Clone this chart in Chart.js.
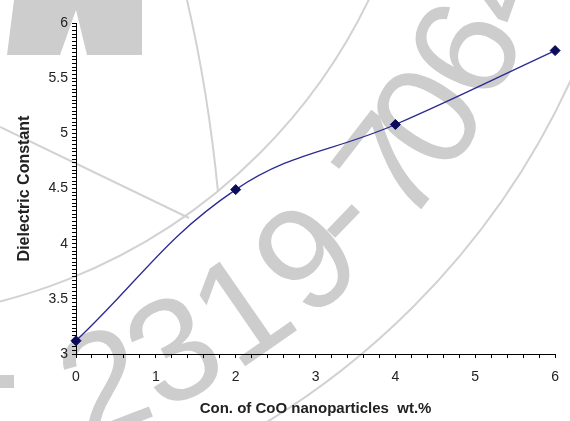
<!DOCTYPE html>
<html>
<head>
<meta charset="utf-8">
<script src="https://cdn.jsdelivr.net/npm/chart.js@4/dist/chart.umd.min.js"></script>
<style>
  html, body { margin: 0; padding: 0; background: #ffffff; }
  #wrap { width: 570px; height: 421px; position: relative; }
</style>
</head>
<body>
<div id="wrap"><canvas id="chart" width="570" height="421"></canvas></div>
<script>
// Dielectric constant against CoO nanoparticle concentration
const concentration = [0, 2, 4, 6];
const dielectricConstant = [3.12, 4.49, 5.08, 5.75];

const xTickLabels = ['0', '1', '2', '3', '4', '5', '6'];
const yTickLabels = ['3', '3.5', '4', '4.5', '5', '5.5', '6'];

// Minor tick positions for both axes
const xTickValues = [];
for (let i = 0; i <= 30; i++) xTickValues.push(i * 0.2);
const yTickValues = [];
for (let i = 0; i <= 90; i++) yTickValues.push(3 + i / 30);

const tickFont = { family: "'Liberation Sans', Arial, sans-serif", size: 14 };
const titleFont = { family: "'Liberation Sans', Arial, sans-serif", size: 15, weight: 'bold' };
const textColor = '#222222';

// Light grey circular stamp printed behind the plot
const stampText = '2319-7064';
const stampAngles = [68.8, 62.3, 55.3, 48.5, 44.0, 37.9, 32.6, 26.0, 19.5];

const stampPlugin = {
  id: 'stamp',
  beforeDraw(chart) {
    const ctx = chart.ctx;
    const cx = -140, cy = -246;
    ctx.save();
    ctx.fillStyle = '#ffffff';
    ctx.fillRect(0, 0, chart.width, chart.height);

    ctx.fillStyle = '#cdcdcd';
    ctx.beginPath();
    ctx.moveTo(14, 0); ctx.lineTo(142, 0); ctx.lineTo(142, 55);
    ctx.lineTo(87, 55); ctx.lineTo(76, 10); ctx.lineTo(60, 55);
    ctx.lineTo(7, 55); ctx.closePath();
    ctx.fill();
    ctx.fillRect(0, 375, 14, 13);

    ctx.strokeStyle = '#d2d2d2';
    ctx.lineWidth = 2;
    ctx.beginPath();
    ctx.arc(cx, cy, 565, 0, Math.PI / 2);
    ctx.stroke();
    ctx.beginPath();
    ctx.arc(cx, cy, 782, 0, Math.PI / 2);
    ctx.stroke();
    ctx.beginPath();
    ctx.moveTo(0, 127); ctx.lineTo(189, 218);
    ctx.moveTo(187, 0); ctx.quadraticCurveTo(208, 90, 218, 192);
    ctx.stroke();

    // stamp number, each glyph centred on the arc
    const r = 672;
    ctx.font = "146px 'Liberation Sans', Arial, sans-serif";
    ctx.textAlign = 'left';
    ctx.textBaseline = 'alphabetic';
    ctx.fillStyle = '#cdcdcd';
    [...stampText].forEach((ch, i) => {
      const phi = stampAngles[i] * Math.PI / 180;
      const m = ctx.measureText(ch);
      const gx = (m.actualBoundingBoxRight - m.actualBoundingBoxLeft) / 2;
      const gy = (m.actualBoundingBoxDescent - m.actualBoundingBoxAscent) / 2;
      ctx.save();
      ctx.translate(cx + r * Math.cos(phi), cy + r * Math.sin(phi));
      ctx.rotate(phi - Math.PI / 2);
      ctx.fillText(ch, -gx, -gy);
      ctx.restore();
    });
    ctx.restore();
  }
};

new Chart(document.getElementById('chart'), {
  type: 'line',
  data: {
    datasets: [{
      data: concentration.map((x, i) => ({ x: x, y: dielectricConstant[i] })),
      borderColor: '#2a2a94',
      borderWidth: 1.3,
      tension: 0.4,
      pointStyle: 'rectRot',
      pointRadius: 5,
      pointBackgroundColor: '#0c0c5c',
      pointBorderColor: '#0c0c5c',
      pointBorderWidth: 1,
      fill: false,
      clip: false
    }]
  },
  options: {
    responsive: false,
    animation: false,
    layout: { padding: { top: 23, right: 12, left: 0, bottom: 0 } },
    plugins: {
      legend: { display: false },
      tooltip: { enabled: false }
    },
    scales: {
      x: {
        type: 'linear',
        min: 0,
        max: 6,
        afterBuildTicks: (axis) => { axis.ticks = xTickValues.map(v => ({ value: v })); },
        afterFit: (axis) => { axis.height = 67; },
        grid: { drawOnChartArea: false, drawTicks: true, tickLength: 4, color: '#000000', lineWidth: 1 },
        border: { display: true, color: '#000000', width: 1 },
        ticks: {
          autoSkip: false,
          maxRotation: 0,
          padding: 11,
          color: textColor,
          font: tickFont,
          callback: (value) => {
            const i = Math.round(value);
            return Math.abs(value - i) < 1e-6 ? xTickLabels[i] : '';
          }
        },
        title: {
          display: true,
          text: 'Con. of CoO nanoparticles  wt.%',
          color: textColor,
          font: titleFont,
          padding: { top: 0, bottom: 3 }
        }
      },
      y: {
        type: 'linear',
        min: 3,
        max: 6,
        afterBuildTicks: (axis) => { axis.ticks = yTickValues.map(v => ({ value: v })); },
        afterFit: (axis) => { axis.width = 76; },
        grid: { drawOnChartArea: false, drawTicks: true, tickLength: 4, color: '#000000', lineWidth: 1 },
        border: { display: true, color: '#000000', width: 1 },
        ticks: {
          autoSkip: false,
          padding: 4,
          color: textColor,
          font: tickFont,
          callback: (value) => {
            const k = Math.round((value - 3) * 2);
            return Math.abs((value - 3) * 2 - k) < 1e-6 ? yTickLabels[k] : '';
          }
        },
        title: {
          display: true,
          text: 'Dielectric Constant',
          color: textColor,
          font: { family: "'Liberation Sans', Arial, sans-serif", size: 16, weight: 'bold' },
          padding: { top: 15, bottom: 0 }
        }
      }
    }
  },
  plugins: [stampPlugin]
});
</script>
</body>
</html>
